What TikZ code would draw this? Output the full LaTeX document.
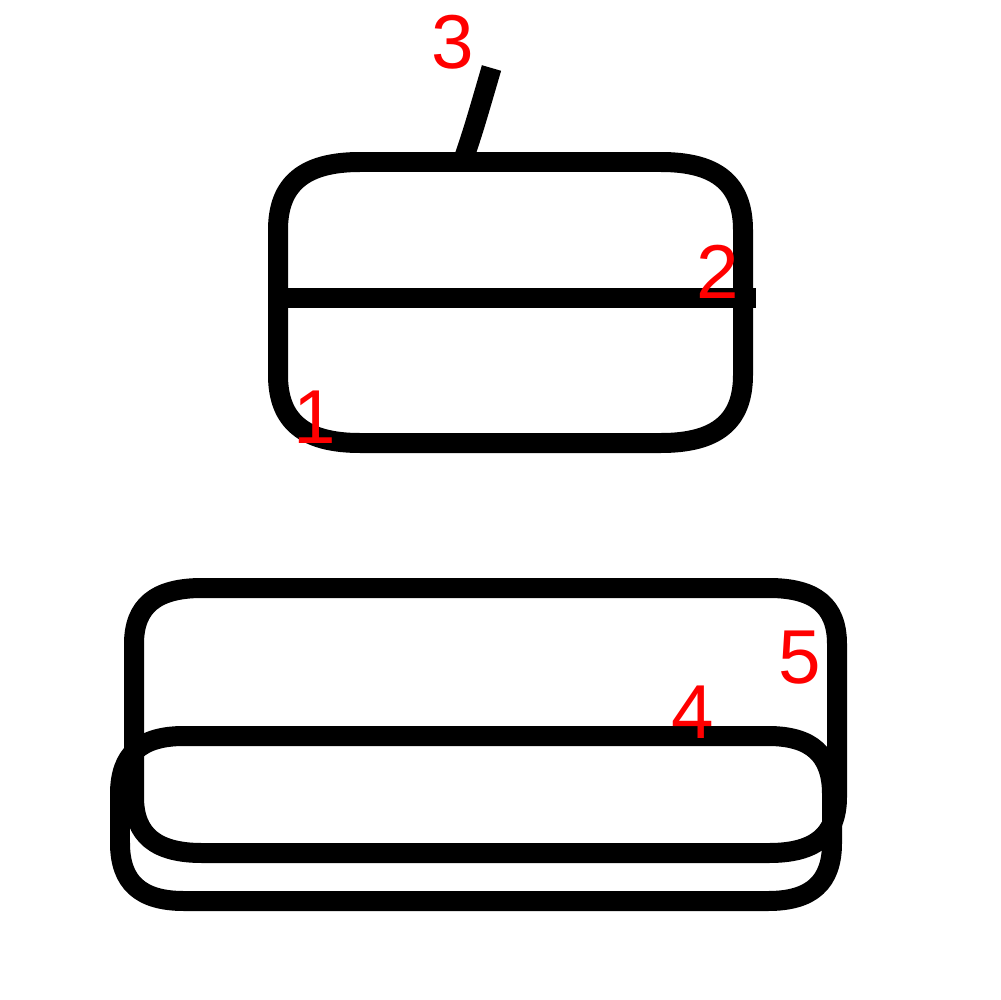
\documentclass[tikz,border=0pt]{standalone}
\usepackage{fontspec}
\setmainfont{Liberation Sans}
\definecolor{lblred}{RGB}{255,0,0}
% squircle-like rounded box: x1,y1,x2,y2,rx,ry
\newcommand{\sqbox}[6]{%
  \draw[stroke] ({#1+#5},#2) -- ({#3-#5},#2)
    .. controls ({#3-#5*0.32},#2) and (#3,{#2+#6*0.32}) .. (#3,{#2+#6})
    -- (#3,{#4-#6})
    .. controls (#3,{#4-#6*0.32}) and ({#3-#5*0.32},#4) .. ({#3-#5},#4)
    -- ({#1+#5},#4)
    .. controls ({#1+#5*0.32},#4) and (#1,{#4-#6*0.32}) .. (#1,{#4-#6})
    -- (#1,{#2+#6})
    .. controls (#1,{#2+#6*0.32}) and ({#1+#5*0.32},#2) .. ({#1+#5},#2)
    -- cycle;}
\begin{document}
\begin{tikzpicture}[x=0.02cm,y=-0.02cm,
  stroke/.style={draw=black,line width=0.4cm,line join=round},
  lbl/.style={text=lblred,inner sep=0pt,anchor=base,font=\fontsize{43.5}{50}\selectfont}]
\useasboundingbox[fill=white] (0,0) rectangle (1000,1000);
% top box
\sqbox{278}{162}{743}{443}{82}{68}
\coordinate (hl) at (278,298);
\coordinate (hr) at (756,298);
\draw[stroke] (hl) -- (hr);
\coordinate (tb) at (464,158);
\coordinate (tt) at (491.5,68);
\draw[stroke] (tb) .. controls (474,128) .. (tt);
% bottom shapes
\sqbox{134}{588}{837}{853}{68}{56}
\sqbox{120}{736}{832}{901}{64}{58}
% labels
\node[lbl] (l1) at (315,443) {1};
\node[lbl] (l2) at (718,298) {2};
\node[lbl] (l3) at (453,69) {3};
\node[lbl] (l4) at (693,738) {4};
\node[lbl] (l5) at (800,683) {5};
\end{tikzpicture}
\end{document}
